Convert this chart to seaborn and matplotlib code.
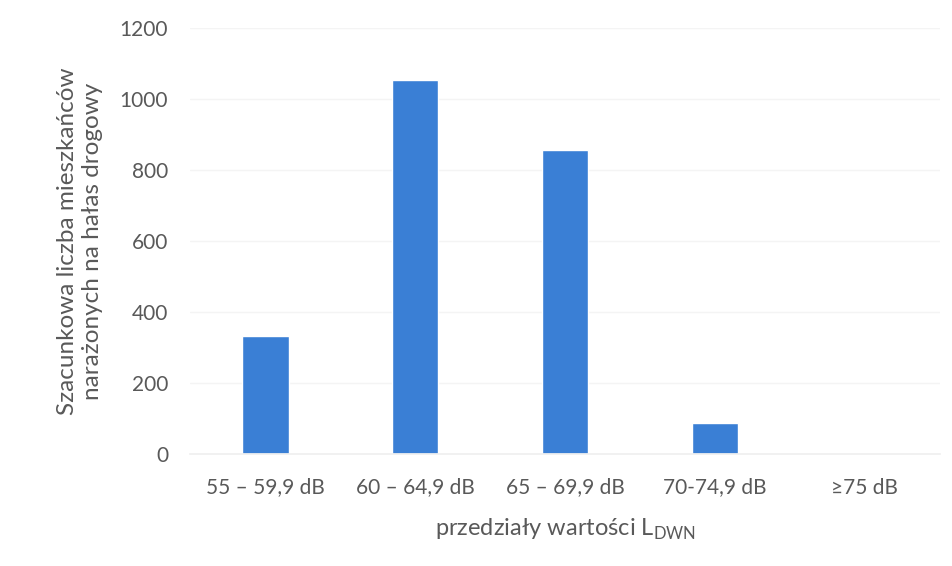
import matplotlib
matplotlib.use("Agg")
import matplotlib.pyplot as plt
import seaborn as sns
import pandas as pd

categories = ["55 – 59,9 dB", "60 – 64,9 dB", "65 – 69,9 dB", "70-74,9 dB", "≥75 dB"]
values = [333, 1053, 856, 87, 0]
yticks = [0, 200, 400, 600, 800, 1000, 1200]

df = pd.DataFrame({"przedzial": categories, "liczba": values})

sns.set_theme(style="white")
plt.rcParams["font.family"] = ["Lato", "DejaVu Sans"]

text_color = "#595959"
fig = plt.figure(figsize=(9.52, 5.66), dpi=100)
ax = fig.add_axes([0.2, 0.198, 0.787, 0.752])

sns.barplot(data=df, x="przedzial", y="liczba", color="#3a7fd5",
            width=0.31, saturation=1, ax=ax)

ax.set_ylim(0, 1200)
ax.set_yticks(yticks)
ax.set_yticklabels([str(t) for t in yticks])
ax.set_xlim(-0.5, len(categories) - 0.5)
ax.yaxis.grid(True, color="#f4f4f4", linewidth=1)
ax.set_axisbelow(True)
for s in ["top", "right", "left"]:
    ax.spines[s].set_visible(False)
ax.spines["bottom"].set_color("#f0f0f0")
ax.tick_params(axis="both", length=0, labelsize=15, colors=text_color)
ax.tick_params(axis="x", pad=17)
ax.tick_params(axis="y", pad=16)

ax.set_xlabel("przedziały wartości L$_{\\mathregular{DWN}}$", fontsize=17,
              color=text_color, labelpad=14)
ax.set_ylabel("Szacunkowa liczba mieszkańców\nnarażonych na hałas drogowy",
              fontsize=17.5, color=text_color, labelpad=12, linespacing=1.25)

fig.savefig("out.png", dpi=100)
